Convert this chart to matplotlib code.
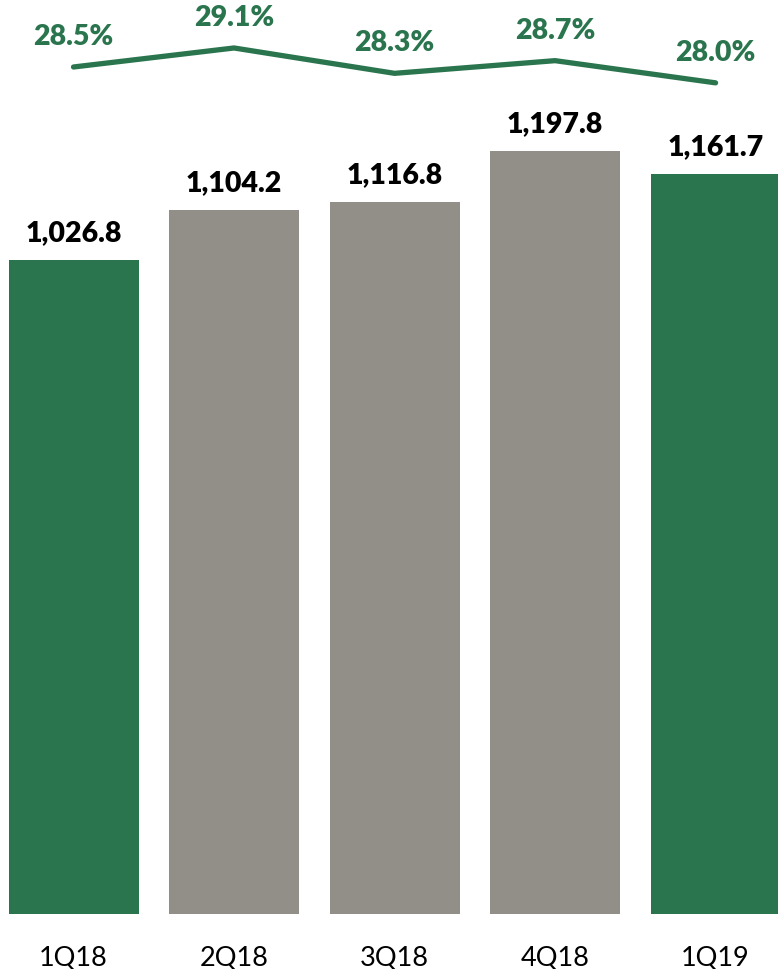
import matplotlib
matplotlib.use("Agg")
import matplotlib.pyplot as plt
import numpy as np

quarters = ["1Q18", "2Q18", "3Q18", "4Q18", "1Q19"]
values = [1026.8, 1104.2, 1116.8, 1197.8, 1161.7]
margins = [28.5, 29.1, 28.3, 28.7, 28.0]

green = "#2A754E"
grey = "#918F87"
bar_colors = [green, grey, grey, grey, green]

plt.rcParams["font.family"] = ["Lato", "DejaVu Sans"]

fig = plt.figure(figsize=(7.78, 9.70), dpi=100)
ax = fig.add_axes([0, 55 / 970, 1, 915 / 970])
x = np.arange(len(quarters))

ax.bar(x, values, width=0.81, color=bar_colors)
ax.set_xlim(-0.458, 4.389)
ax.set_ylim(0, 1436)
for xi, v in zip(x, values):
    ax.annotate(f"{v:,.1f}", (xi, v), xytext=(0, 15), textcoords="offset pixels",
                ha="center", va="bottom", fontsize=20.5, fontweight="heavy", color="black")

ax.set_xticks(x)
ax.set_xticklabels(quarters, fontsize=19.5)
ax.tick_params(axis="x", length=0, pad=22)
ax.set_yticks([])
for s in ax.spines.values():
    s.set_visible(False)

# margin line on its own scale
ax2 = ax.twinx()
ax2.plot(x, margins, color=green, linewidth=3.8, solid_capstyle="round")
ax2.set_ylim(1.78, 30.645)
ax2.set_yticks([])
for s in ax2.spines.values():
    s.set_visible(False)
for xi, m in zip(x, margins):
    ax2.annotate(f"{m:.1f}%", (xi, m), xytext=(0, 18), textcoords="offset pixels",
                 ha="center", va="bottom", fontsize=20.5, fontweight="heavy", color=green)

fig.savefig("out.png", dpi=100)
